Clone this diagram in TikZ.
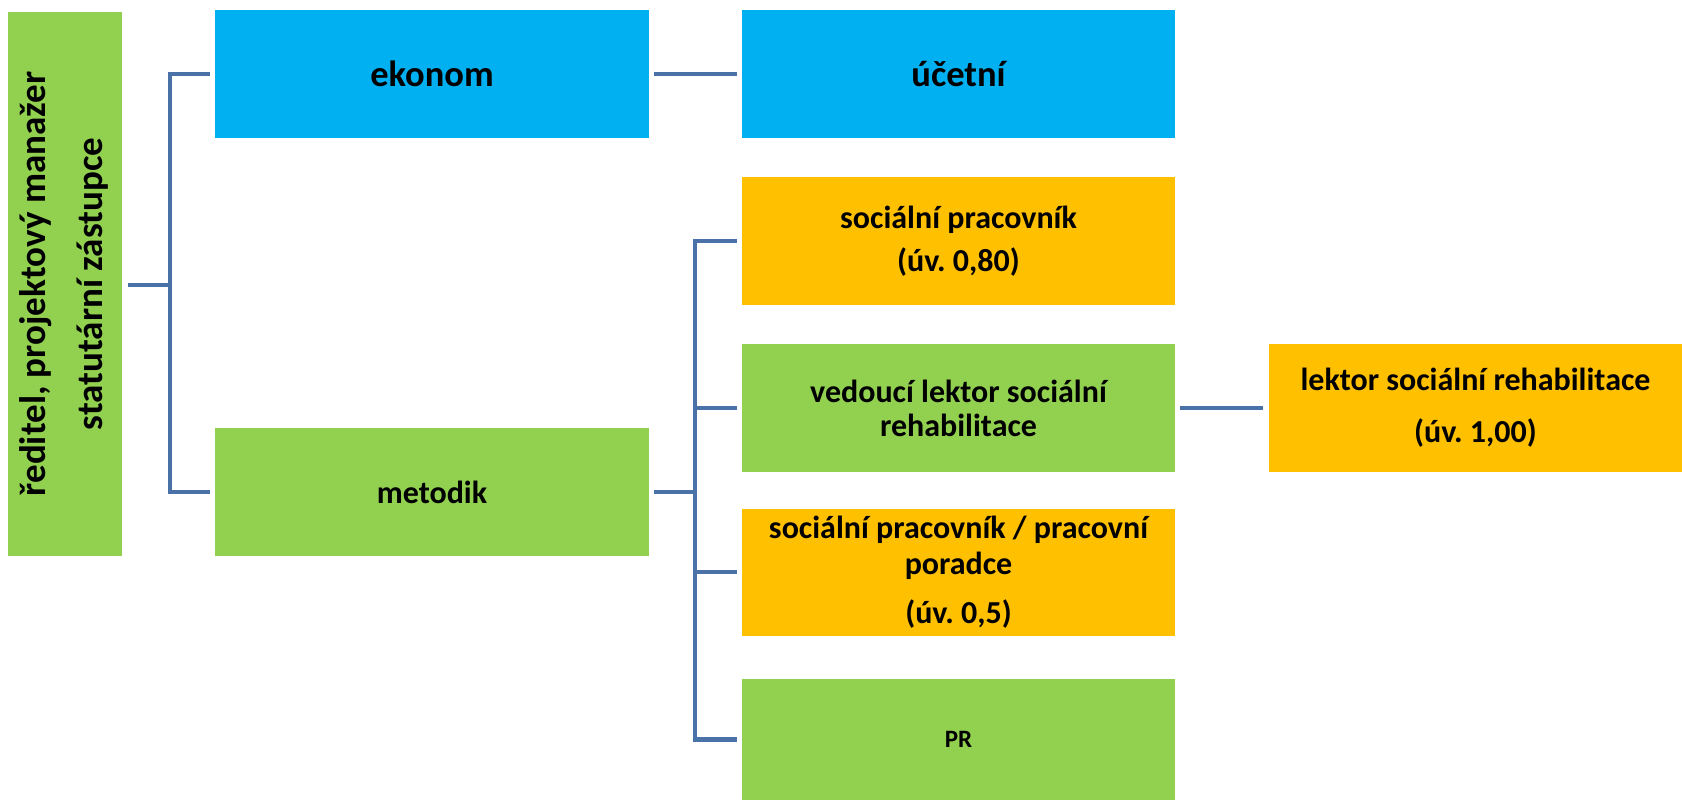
\documentclass[tikz,border=0pt]{standalone}
\usepackage{fontspec}
\setmainfont{Carlito}
\frenchspacing
\definecolor{cblue}{HTML}{00B0F0}
\definecolor{cgreen}{HTML}{92D050}
\definecolor{corange}{HTML}{FFC000}
\definecolor{cline}{HTML}{4A71A8}
\tikzset{
  box/.style={rectangle, inner sep=0pt, align=center, font=\bfseries\fontsize{32}{34}\selectfont, text=black},
  bluebox/.style={box, fill=cblue, minimum width=434pt, minimum height=128pt, font=\bfseries\fontsize{36.5}{40}\selectfont},
  greenbox/.style={box, fill=cgreen},
  orangebox/.style={box, fill=corange},
  wide/.style={minimum width=433pt, minimum height=128pt},
  conn/.style={draw=cline, line width=4.8pt}
}
\begin{document}
\begin{tikzpicture}[x=1pt, y=-1pt]
\useasboundingbox (0,0) rectangle (1682,801);
\fill[white] (0,0) rectangle (1682,801);

\node[greenbox, minimum width=114pt, minimum height=544pt] (dir) at (65,284)
  {\rotatebox{90}{\fontsize{37}{44}\selectfont\begin{tabular}{@{}c@{}}ředitel, projektový manažer\\[13pt] statutární zástupce\end{tabular}}};

\node[bluebox] (ekonom) at (432,74) {ekonom};
\node[bluebox, minimum width=433pt] (ucetni) at (958.5,74) {účetní};
\node[greenbox, minimum width=434pt, minimum height=128pt] (metodik) at (432,492) {metodik};

\node[orangebox, wide] (socprac) at (958.5,241) {sociální pracovník\\[9pt](úv. 0,80)};
\node[greenbox, wide] (vedouci) at (958.5,408) {vedoucí lektor sociální\\rehabilitace};
\node[orangebox, wide, minimum height=127pt, font=\bfseries\fontsize{32}{36}\selectfont] (poradce) at (958.5,572) {sociální pracovník / pracovní\\poradce\\[13pt](úv. 0,5)};
\node[greenbox, minimum width=433pt, minimum height=121pt, font=\bfseries\fontsize{25}{28}\selectfont] (pr) at (958.5,739.5) {PR};
\node[orangebox, minimum width=413pt, minimum height=128pt] (lektor) at (1475.5,408) {lektor sociální rehabilitace\\[18pt](úv. 1,00)};

% connectors
\coordinate (bus1) at (170,285);
\coordinate (bus2) at (695,492);
\draw[conn] ([xshift=6pt]dir.east |- bus1) -- (bus1);
\draw[conn] ([xshift=-5pt]ekonom.west) -| (bus1) |- ([xshift=-5pt]metodik.west);
\draw[conn] ([xshift=5pt]ekonom.east) -- ([xshift=-5pt]ucetni.west);
\draw[conn] ([xshift=5pt]metodik.east) -- (bus2);
\draw[conn] ([xshift=-5pt]socprac.west) -| (bus2) |- ([xshift=-5pt]pr.west);
\draw[conn] (bus2 |- vedouci.west) -- ([xshift=-5pt]vedouci.west);
\draw[conn] (bus2 |- poradce.west) -- ([xshift=-5pt]poradce.west);
\draw[conn] ([xshift=5pt]vedouci.east) -- ([xshift=-6pt]lektor.west);
\end{tikzpicture}
\end{document}
